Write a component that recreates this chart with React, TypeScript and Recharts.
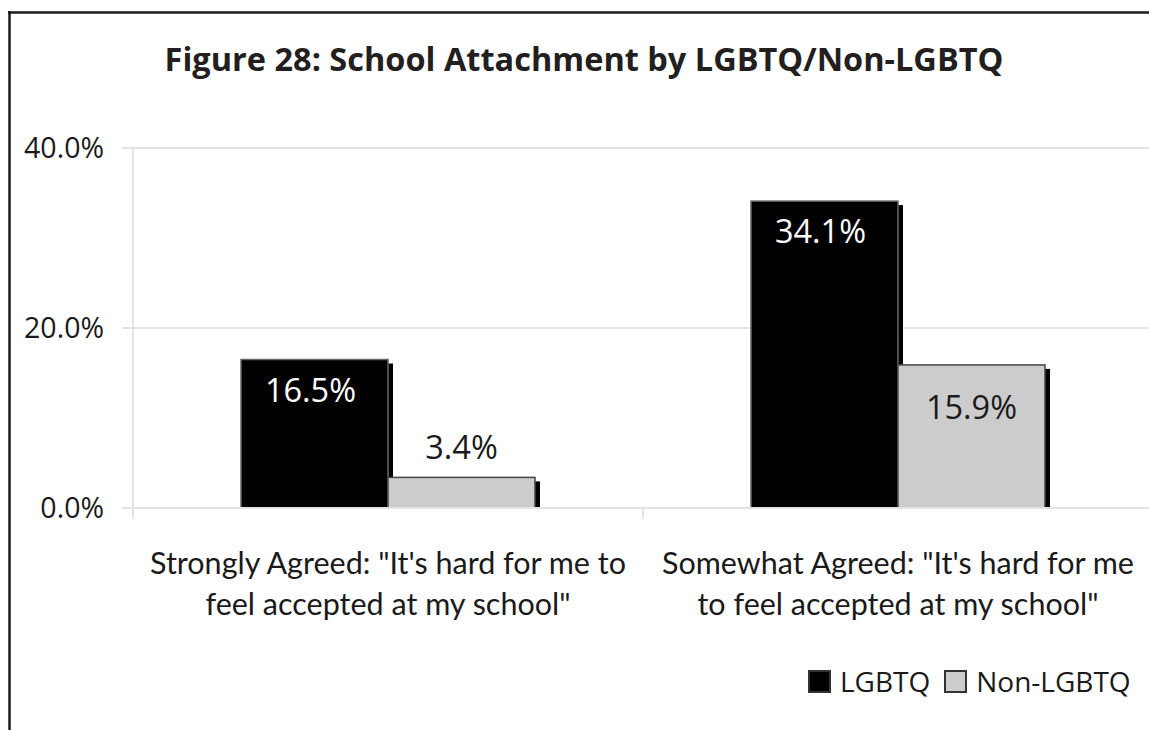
import React from 'react';
import { BarChart, Bar, XAxis, YAxis, CartesianGrid, Legend, LabelList } from 'recharts';

const title = 'Figure 28: School Attachment by LGBTQ/Non-LGBTQ';
const categories = ['Strongly Agreed', 'Somewhat Agreed'];
const categoryLines = [
  ['Strongly Agreed: "It\'s hard for me to', 'feel accepted at my school"'],
  ['Somewhat Agreed: "It\'s hard for me', 'to feel accepted at my school"'],
];
const seriesNames = ['LGBTQ', 'Non-LGBTQ'];
const lgbtq = [16.5, 34.1];
const nonLgbtq = [3.4, 15.9];
const yTicks = [0, 20, 40];

const data = categories.map((c, i) => ({ name: c, lgbtq: lgbtq[i], non: nonLgbtq[i] }));

const NUMFONT = '"Open Sans", sans-serif';
const CATFONT = 'Lato, "Open Sans", sans-serif';
const GRID = '#e3e3e3';

const ShadowBar = (props: any) => {
  const { x, y, width, height, fill, stroke } = props;
  if (height <= 0) return null;
  return (
    <g>
      <rect x={x + 5} y={y + 4} width={width} height={Math.max(height - 4, 0)} fill="#000" />
      <rect x={x} y={y} width={width} height={height} fill={fill} stroke={stroke} strokeWidth={1.5} />
    </g>
  );
};

const LgbtqLabel = (props: any) => {
  const { x, y, width, value } = props;
  return (
    <text x={x + width / 2 - 4} y={y + 42} fill="#fff" fontSize={32.5} fontFamily={NUMFONT} textAnchor="middle">
      {value.toFixed(1)}%
    </text>
  );
};

const NonLabel = (props: any) => {
  const { x, y, width, height, value } = props;
  const inside = height > 60;
  return (
    <text x={x + width / 2} y={inside ? y + 54 : y - 18} fill="#1a1a1a" fontSize={32.5} fontFamily={NUMFONT} textAnchor="middle">
      {value.toFixed(1)}%
    </text>
  );
};

const CatTick = (props: any) => {
  const { x, y, payload, index, width, visibleTicksCount } = props;
  const idx = categories.indexOf(payload.value);
  const lines = categoryLines[idx] || [];
  const count = visibleTicksCount || categories.length;
  const half = width / count / 2;
  return (
    <g>
      <line x1={x - half} y1={y} x2={x - half} y2={y + 11} stroke={GRID} strokeWidth={2} />
      {index === count - 1 && <line x1={x + half} y1={y} x2={x + half} y2={y + 11} stroke={GRID} strokeWidth={2} />}
      {lines.map((l, i) => (
        <text key={i} x={x} y={y + 66 + i * 41} textAnchor="middle" fontSize={30.5} fontFamily={CATFONT} fill="#1a1a1a">
          {l}
        </text>
      ))}
    </g>
  );
};

const LegendContent = (props: any) => {
  const { payload } = props;
  return (
    <div style={{ display: 'flex', alignItems: 'center', fontFamily: NUMFONT, fontSize: 28, color: '#1a1a1a' }}>
      {(payload || []).map((p: any, i: number) => (
        <div key={i} style={{ display: 'flex', alignItems: 'center', marginRight: 14 }}>
          <span
            style={{
              display: 'inline-block',
              width: 19,
              height: 19,
              background: p.color,
              border: '2px solid #333',
              marginRight: 9,
            }}
          />
          <span>{p.value}</span>
        </div>
      ))}
    </div>
  );
};

export default function App() {
  return (
    <div style={{ position: 'fixed', left: 0, top: 0, width: 1149, height: 730, overflow: 'hidden', background: '#fff' }}>
      <div style={{ position: 'absolute', left: 0, top: 0 }}>
        <BarChart
          width={1160}
          height={730}
          data={data}
          margin={{ top: 148, right: 7, bottom: 0, left: 0 }}
          barGap={0}
        >
          <CartesianGrid horizontal vertical={false} stroke={GRID} strokeWidth={2} />
          <XAxis
            dataKey="name"
            height={222}
            axisLine={{ stroke: GRID, strokeWidth: 2 }}
            tickLine={false}
            tickSize={0}
            tickMargin={0}
            tick={<CatTick />}
            interval={0}
          />
          <YAxis
            width={133}
            domain={[0, 40]}
            ticks={yTicks}
            axisLine={{ stroke: GRID, strokeWidth: 2 }}
            tickLine={{ stroke: GRID, strokeWidth: 2 }}
            tickSize={11}
            tickMargin={18}
            tickFormatter={(v: number) => `${v.toFixed(1)}%`}
            tick={{ fontSize: 28.5, fontFamily: NUMFONT, fill: '#1a1a1a' }}
          />
          <Legend
            layout="horizontal"
            verticalAlign="middle"
            align="center"
            content={<LegendContent />}
            wrapperStyle={{ position: 'absolute', left: 808, top: 662, width: 360 }}
          />
          <Bar dataKey="lgbtq" name={seriesNames[0]} fill="#000" stroke="#666" barSize={147} isAnimationActive={false} shape={<ShadowBar />}>
            <LabelList dataKey="lgbtq" content={<LgbtqLabel />} />
          </Bar>
          <Bar dataKey="non" name={seriesNames[1]} fill="#cccccc" stroke="#444" barSize={147} isAnimationActive={false} shape={<ShadowBar />}>
            <LabelList dataKey="non" content={<NonLabel />} />
          </Bar>
        </BarChart>
      </div>
      <svg width={1149} height={730} style={{ position: 'absolute', left: 0, top: 0, pointerEvents: 'none' }}>
        <line x1={9.5} y1={11} x2={9.5} y2={730} stroke="#1a1a1a" strokeWidth={2.5} />
        <line x1={8} y1={12.5} x2={1149} y2={12.5} stroke="#1a1a1a" strokeWidth={2.5} />
        <text x={584} y={71} textAnchor="middle" fontSize={32.5} fontWeight={700} fontFamily='"Open Sans", sans-serif' fill="#231f20">
          {title}
        </text>
      </svg>
    </div>
  );
}
